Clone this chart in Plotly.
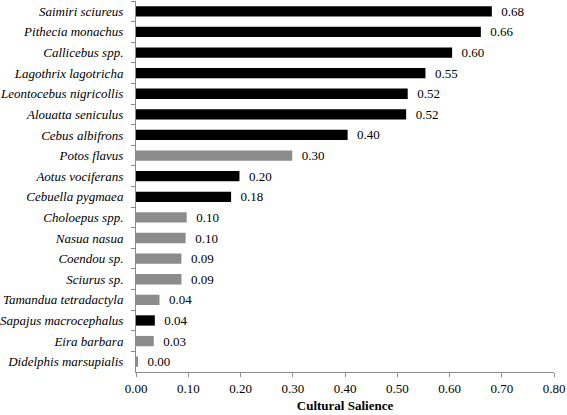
import plotly.graph_objects as go

species = ["Saimiri sciureus", "Pithecia monachus", "Callicebus spp.", "Lagothrix lagotricha",
           "Leontocebus nigricollis", "Alouatta seniculus", "Cebus albifrons", "Potos flavus",
           "Aotus vociferans", "Cebuella pygmaea", "Choloepus spp.", "Nasua nasua",
           "Coendou sp.", "Sciurus sp.", "Tamandua tetradactyla", "Sapajus macrocephalus",
           "Eira barbara", "Didelphis marsupialis"]
salience = [0.681, 0.660, 0.605, 0.554, 0.520, 0.517, 0.405, 0.299, 0.198, 0.182,
            0.097, 0.095, 0.087, 0.087, 0.045, 0.036, 0.034, 0.003]
value_labels = ["0.68", "0.66", "0.60", "0.55", "0.52", "0.52", "0.40", "0.30", "0.20", "0.18",
                "0.10", "0.10", "0.09", "0.09", "0.04", "0.04", "0.03", "0.00"]
is_primate = [True, True, True, True, True, True, True, False, True, True,
              False, False, False, False, False, True, False, False]
x_ticks = [0.0, 0.1, 0.2, 0.3, 0.4, 0.5, 0.6, 0.7, 0.8]

colors = ["#000000" if p else "#8c8c8c" for p in is_primate]
FONT = "Times New Roman, Liberation Serif, serif"

fig = go.Figure(go.Bar(
    x=salience, y=species, orientation="h",
    marker=dict(color=colors, line=dict(width=0)),
    text=value_labels, texttemplate="  %{text}", textposition="outside",
    constraintext="none",
    textfont=dict(family=FONT, size=13, color="#000"),
    cliponaxis=False,
))

fig.update_layout(
    width=567, height=415,
    margin=dict(l=136, r=13, t=1, b=43),
    paper_bgcolor="white", plot_bgcolor="white",
    bargap=0.5, showlegend=False,
    font=dict(family=FONT, size=13, color="#000"),
    xaxis=dict(range=[0, 0.8], tickvals=x_ticks, ticktext=[f"{v:.2f}" for v in x_ticks],
               showgrid=False, zeroline=False, showline=True, linecolor="#8c8c8c", linewidth=1,
               ticks="outside", ticklen=4, tickcolor="#8c8c8c",
               title=dict(text="<b>Cultural Salience</b>", font=dict(family=FONT, size=13), standoff=6)),
    yaxis=dict(autorange="reversed", categoryorder="array", categoryarray=species,
               showgrid=False, showline=True, linecolor="#8c8c8c", linewidth=1,
               ticks="outside", ticklen=4, tickcolor="#8c8c8c", tickson="boundaries",
               tickfont=dict(family=FONT, style="italic", size=13), ticklabelstandoff=9),
)

fig.write_html("out.html", config={"displayModeBar": False},
               post_script="document.body.style.margin='0';document.body.style.overflow='hidden';")
